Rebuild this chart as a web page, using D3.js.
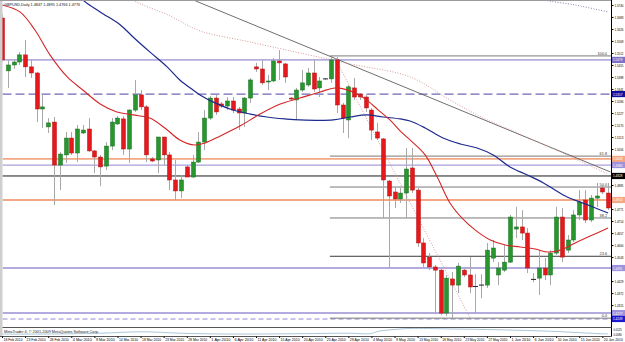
<!DOCTYPE html>
<html><head><meta charset="utf-8">
<script src="https://cdn.jsdelivr.net/npm/d3@7"></script>
<style>
html,body{margin:0;padding:0;background:#fff;}
svg{display:block;font-family:"Liberation Sans",Arial,sans-serif;}
</style></head><body>
<svg id="c" width="625" height="342"></svg>
<script>
// ---------------- DATA ----------------
const symbol = "GBPUSD,Daily";
const opens = [1.5678,1.5427,1.5455,1.5469,1.5503,1.5446,1.5417,1.5246,1.5161,1.5184,1.4980,1.5028,1.5108,1.5037,1.5132,1.5151,1.5047,1.5018,1.4975,1.5070,1.5175,1.5199,1.5056,1.5241,1.5313,1.5256,1.5009,1.5004,1.5113,1.5028,1.4909,1.4857,1.4971,1.4923,1.4994,1.5089,1.5203,1.5298,1.5270,1.5260,1.5284,1.5246,1.5227,1.5298,1.5446,1.5436,1.5374,1.5379,1.5474,1.5460,1.5298,1.5289,1.5336,1.5360,1.5417,1.5346,1.5389,1.5389,1.5479,1.5265,1.5194,1.5346,1.5317,1.5303,1.5241,1.5137,1.5104,1.4904,1.4852,1.4819,1.4847,1.4966,1.4861,1.4610,1.4543,1.4496,1.4481,1.4277,1.4439,1.4410,1.4481,1.4458,1.4405,1.4408,1.4410,1.4538,1.4458,1.4481,1.4519,1.4676,1.4686,1.4657,1.4439,1.4443,1.4491,1.4458,1.4562,1.4733,1.4576,1.4624,1.4743,1.4814,1.4719,1.4823,1.4871,1.4847];
const highs = [1.5697,1.5479,1.5479,1.5517,1.5574,1.5479,1.5422,1.5313,1.5203,1.5208,1.5042,1.5137,1.5137,1.5170,1.5170,1.5203,1.5051,1.5028,1.5089,1.5203,1.5213,1.5213,1.5246,1.5384,1.5336,1.5265,1.5018,1.5113,1.5113,1.5042,1.5004,1.4933,1.4980,1.5028,1.5137,1.5241,1.5308,1.5313,1.5279,1.5303,1.5303,1.5256,1.5303,1.5393,1.5465,1.5479,1.5408,1.5488,1.5526,1.5465,1.5303,1.5346,1.5431,1.5441,1.5479,1.5398,1.5393,1.5493,1.5493,1.5275,1.5360,1.5393,1.5322,1.5313,1.5251,1.5180,1.5108,1.4909,1.4876,1.4871,1.5061,1.5061,1.4871,1.4633,1.4562,1.4505,1.4491,1.4458,1.4472,1.4515,1.4491,1.4543,1.4462,1.4462,1.4610,1.4624,1.4519,1.4600,1.4743,1.4781,1.4766,1.4681,1.4467,1.4576,1.4538,1.4576,1.4781,1.4776,1.4648,1.4766,1.4861,1.4861,1.4838,1.4895,1.4880,1.4895];
const lows = [1.5469,1.5346,1.5436,1.5455,1.5398,1.5393,1.5184,1.5156,1.5132,1.4790,1.4861,1.4990,1.5028,1.4994,1.5127,1.5042,1.4942,1.4880,1.4956,1.5051,1.5170,1.5028,1.4990,1.5232,1.5241,1.4994,1.4994,1.4942,1.4980,1.4861,1.4814,1.4823,1.4923,1.4918,1.4990,1.5051,1.5194,1.5218,1.5251,1.5241,1.5227,1.5146,1.5161,1.5275,1.5422,1.5360,1.5336,1.5374,1.5384,1.5370,1.5289,1.5194,1.5327,1.5351,1.5327,1.5303,1.5384,1.5370,1.5227,1.5132,1.5108,1.5289,1.5289,1.5232,1.5099,1.5099,1.4728,1.4491,1.4776,1.4800,1.4728,1.4847,1.4591,1.4496,1.4481,1.4272,1.4268,1.4263,1.4253,1.4372,1.4448,1.4372,1.4277,1.4348,1.4396,1.4519,1.4410,1.4472,1.4515,1.4633,1.4624,1.4467,1.4424,1.4363,1.4434,1.4410,1.4553,1.4519,1.4562,1.4614,1.4719,1.4705,1.4709,1.4781,1.4842,1.4766];
const closes = [1.5479,1.5455,1.5469,1.5503,1.5446,1.5417,1.5246,1.5256,1.5180,1.4980,1.5032,1.5108,1.5037,1.5151,1.5146,1.5047,1.5018,1.4971,1.5070,1.5184,1.5203,1.5056,1.5241,1.5313,1.5256,1.5028,1.4999,1.5113,1.5028,1.4909,1.4857,1.4909,1.4923,1.4994,1.5089,1.5203,1.5298,1.5232,1.5260,1.5284,1.5241,1.5227,1.5298,1.5384,1.5436,1.5370,1.5379,1.5474,1.5465,1.5398,1.5294,1.5336,1.5370,1.5417,1.5341,1.5379,1.5389,1.5479,1.5265,1.5203,1.5351,1.5303,1.5303,1.5251,1.5146,1.5108,1.4909,1.4833,1.4819,1.4847,1.4961,1.4861,1.4610,1.4515,1.4496,1.4481,1.4277,1.4443,1.4410,1.4500,1.4458,1.4401,1.4403,1.4410,1.4576,1.4586,1.4491,1.4519,1.4733,1.4686,1.4657,1.4491,1.4437,1.4491,1.4458,1.4562,1.4733,1.4543,1.4624,1.4743,1.4804,1.4719,1.4823,1.4833,1.4852,1.4776];

const dateLabels = ["18 Feb 2010","23 Feb 2010","28 Feb 2010","4 Mar 2010","9 Mar 2010","14 Mar 2010","18 Mar 2010","23 Mar 2010","28 Mar 2010","1 Apr 2010","6 Apr 2010","11 Apr 2010","15 Apr 2010","20 Apr 2010","25 Apr 2010","29 Apr 2010","4 May 2010","9 May 2010","13 May 2010","18 May 2010","23 May 2010","27 May 2010","1 Jun 2010","6 Jun 2010","10 Jun 2010","15 Jun 2010","20 Jun 2010"];
const dateLabelBars = [0,4,8,12,16,20,24,28,32,36,40,44,48,52,56,60,64,68,72,76,80,84,88,92,96,100,104];

const priceTicks = [1.5740,1.5683,1.5626,1.5569,1.5512,1.5455,1.5398,1.5341,1.5284,1.5227,1.5170,1.5113,1.5056,1.4999,1.4942,1.4885,1.4828,1.4771,1.4714,1.4657,1.4600,1.4543,1.4486,1.4429,1.4372,1.4315,1.4258];
const priceRange = [1.4211, 1.5754];
const barRange = [-0.35, 105.5];

// moving averages / curves as [bar, price]
const maFast = [[0,1.5740],[3.1,1.5707],[5.7,1.5621],[8.3,1.5503],[11.3,1.5398],[14,1.5336],[17,1.5270],[19.9,1.5232],[22.7,1.5218],[25.6,1.5203],[28.2,1.5156],[30.8,1.5099],[33.4,1.5075],[35.2,1.5085],[37.8,1.5118],[41.2,1.5165],[44.7,1.5222],[48.2,1.5270],[51.6,1.5298],[55.1,1.5327],[57.7,1.5346],[60.3,1.5332],[62.9,1.5294],[65.2,1.5241],[67.2,1.5194],[69,1.5141],[71.1,1.5089],[73.3,1.5028],[75.4,1.4923],[77.6,1.4800],[79.7,1.4728],[82,1.4671],[84.6,1.4624],[87.2,1.4600],[89.8,1.4591],[92.4,1.4581],[94.6,1.4567],[96.7,1.4576],[99.3,1.4610],[101.9,1.4643],[105,1.4681]];
const maSlow = [[13,1.5800],[14,1.5764],[17,1.5707],[20.5,1.5645],[22.7,1.5588],[25.6,1.5517],[28.6,1.5446],[30.8,1.5384],[33.1,1.5336],[34.3,1.5313],[36.9,1.5275],[40,1.5241],[43,1.5222],[45.9,1.5208],[49,1.5199],[51.6,1.5194],[57.4,1.5194],[60.3,1.5208],[63.3,1.5218],[66,1.5208],[69,1.5199],[70.7,1.5189],[73.3,1.5156],[76.4,1.5108],[79.4,1.5080],[82.3,1.5061],[85.1,1.5028],[88,1.4971],[91,1.4933],[93.8,1.4895],[95.8,1.4861],[97.9,1.4828],[100.2,1.4804],[102.8,1.4776],[105,1.4752]];
const maDotted = [[21.5,1.5800],[22.7,1.5764],[29.1,1.5688],[34.3,1.5617],[43,1.5564],[51.6,1.5512],[60.3,1.5460],[70.7,1.5398],[77.6,1.5289],[83.4,1.5203],[89.8,1.5127],[96.7,1.5042],[105,1.4937]];
const maTopDotted = [[92,1.5790],[94,1.5764],[99.3,1.5740],[104.9,1.5707]];
const trendLine = [[33.1,1.5764],[105.4,1.4947]];
const steepLine = [[57.7,1.5488],[81.1,1.4253]];

// horizontal levels
const levelPrices = [1.5479,1.5317,1.5009,1.4980,1.4928,1.4814,1.4491,1.4277,1.4249];
const levelKinds  = ["purple","navyDash","orange","lilac","black","orange","lilacThick","lilacThick","lilacDash"];

// fibonacci retracement
const fibHigh = 1.5498, fibLow = 1.4253, fibStartBar = 56.8;
const fibRatios = [1, 0.618, 0.5, 0.382, 0.236, 0];
const fibLabels = ["100.0","61.8","50.0","38.2","23.6","0.0"];

// sub-window indicator [bar, value]
const atrPoints = [[0,0.0086],[6.6,0.0086],[17,0.0093],[24.4,0.0105],[30.9,0.0093],[39.5,0.0086],[51.6,0.0089],[60.3,0.0093],[63.8,0.0089],[65.2,0.0109],[68.1,0.0124],[70.7,0.0132],[77.6,0.0128],[86.3,0.0121],[95,0.0109],[103.6,0.0089],[105,0.0087]];
const atrRange = [0.0070, 0.0140];
const atrTicks = [0.0125, 0.0080];

// ---------------- DRAW ----------------
const svg = d3.select("#c");
const R = 611.5, T = 1, B = 327;
const x = d3.scaleLinear().domain(barRange).range([0, 611]);
const y = d3.scaleLinear().domain(priceRange).range([327, 2]);
const ySub = d3.scaleLinear().domain(atrRange).range([336, 327.5]);

svg.append("rect").attr("width",625).attr("height",342).attr("fill","#fff");
const defs = svg.append("defs");
defs.append("clipPath").attr("id","clip")
  .append("rect").attr("x",2.5).attr("y",T).attr("width",R-2.5).attr("height",B-T);
defs.append("clipPath").attr("id","clipSub")
  .append("rect").attr("x",2.5).attr("y",327.5).attr("width",R-2.5).attr("height",9);

// left strip & borders
svg.append("rect").attr("x",0).attr("y",0).attr("width",2.5).attr("height",337).attr("fill","#cfcfcf");
svg.append("line").attr("x1",0).attr("x2",R).attr("y1",0.5).attr("y2",0.5).attr("stroke","#9a9a9a");

const g = svg.append("g").attr("clip-path","url(#clip)");

const levelStyle = {
  purple:{c:"#7b70c8",w:1,d:null,lab:"#7b70c8"},
  navyDash:{c:"#6f68b8",w:1.2,d:"9,4",lab:"#1010a0"},
  orange:{c:"#f4a785",w:1.8,d:null,lab:"#f4a785"},
  lilac:{c:"#a89fdc",w:1.2,d:null,lab:"#9d92dc"},
  black:{c:"#1a1a1a",w:1,d:null,lab:"#000"},
  lilacThick:{c:"#b3abdd",w:2,d:null,lab:"#9d92dc"},
  lilacDash:{c:"#b8b0e2",w:1.6,d:"5,3",lab:"#1a1ad0"}
};
levelPrices.forEach((p,i)=>{
  const s = levelStyle[levelKinds[i]];
  g.append("line").attr("x1",2.5).attr("x2",R).attr("y1",y(p)).attr("y2",y(p))
    .attr("stroke",s.c).attr("stroke-width",s.w).attr("stroke-dasharray",s.d);
});

// fib levels
fibRatios.forEach((r,i)=>{
  const p = fibLow + (fibHigh-fibLow)*r;
  g.append("line").attr("x1",x(fibStartBar)).attr("x2",R).attr("y1",y(p)).attr("y2",y(p))
    .attr("stroke", r===0.236 ? "#3a3a3a" : "#7a7a7a").attr("stroke-width",1);
  svg.append("text").attr("x",607).attr("y",y(p)-1.2).attr("text-anchor","end")
    .attr("font-size",3.8).attr("fill","#333").text(fibLabels[i]);
});

// trend lines
const ln = d3.line().x(d=>x(d[0])).y(d=>y(d[1]));
const cl = d3.line().x(d=>x(d[0])).y(d=>y(d[1])).curve(d3.curveCatmullRom.alpha(0.5));
g.append("path").attr("d",ln(trendLine)).attr("fill","none").attr("stroke","#5e5e5e").attr("stroke-width",0.9);
g.append("path").attr("d",ln(steepLine)).attr("fill","none").attr("stroke","#d99a9a").attr("stroke-width",1).attr("stroke-dasharray","1,1.6");
g.append("path").attr("d",cl(maDotted)).attr("fill","none").attr("stroke","#d79a9a").attr("stroke-width",1).attr("stroke-dasharray","1,1.6");
g.append("path").attr("d",cl(maTopDotted)).attr("fill","none").attr("stroke","#8c8aa8").attr("stroke-width",1).attr("stroke-dasharray","1,1.6");

// candles
const bars = d3.range(opens.length).map(i=>({i,o:opens[i],h:highs[i],l:lows[i],c:closes[i]}));
const cg = g.append("g");
cg.selectAll("line.w").data(bars).join("line")
  .attr("x1",d=>Math.round(x(d.i))+0.5).attr("x2",d=>Math.round(x(d.i))+0.5)
  .attr("y1",d=>y(d.h)).attr("y2",d=>y(d.l)).attr("stroke","#a8a8a8").attr("stroke-width",1);
cg.selectAll("rect.b").data(bars.filter(d=>Math.abs(d.o-d.c)>=0.0003)).join("rect")
  .attr("x",d=>Math.round(x(d.i))-1.5).attr("width",4)
  .attr("y",d=>y(Math.max(d.o,d.c))).attr("height",d=>Math.max(1,y(Math.min(d.o,d.c))-y(Math.max(d.o,d.c))))
  .attr("fill",d=>d.c>d.o?"#27962c":"#e5191c")
  .attr("stroke",d=>d.c>d.o?"#167020":"#b51212").attr("stroke-width",0.5);
cg.selectAll("line.d").data(bars.filter(d=>Math.abs(d.o-d.c)<0.0003)).join("line")
  .attr("x1",d=>Math.round(x(d.i))-2).attr("x2",d=>Math.round(x(d.i))+3)
  .attr("y1",d=>y(d.c)).attr("y2",d=>y(d.c)).attr("stroke","#222").attr("stroke-width",1);

// moving averages
g.append("path").attr("d",cl(maSlow)).attr("fill","none").attr("stroke","#1d2a8e").attr("stroke-width",1.2);
g.append("path").attr("d",cl(maFast)).attr("fill","none").attr("stroke","#d42626").attr("stroke-width",1.1);

// title
svg.append("text").attr("x",4).attr("y",5.5).attr("font-size",3.8).attr("fill","#111")
  .text(symbol+"  "+[opens,highs,lows,closes].map(a=>a[a.length-1].toFixed(4)).join(" "));

// right axis (tick labels hidden where a highlighted label covers them)
const SX = 0.72;
const hlY = levelPrices.map(p=>y(p));
const ax = svg.append("g").attr("transform",`translate(${R},0)`)
  .call(d3.axisRight(y).tickValues(priceTicks).tickFormat(d3.format(".4f")).tickSize(2).tickPadding(1));
ax.select(".domain").remove();
ax.selectAll("line").attr("stroke","#000");
ax.selectAll(".tick text").attr("font-size",4.1).attr("fill","#000")
  .attr("x",3/SX).attr("transform",`scale(${SX},1)`)
  .style("display",d=>hlY.some(v=>Math.abs(v-y(d))<5)?"none":null);
svg.append("line").attr("x1",R).attr("x2",R).attr("y1",0).attr("y2",336.5).attr("stroke","#000");

// highlighted price labels
levelPrices.forEach((p,i)=>{
  const s = levelStyle[levelKinds[i]];
  svg.append("rect").attr("x",R+0.5).attr("y",y(p)-3.1).attr("width",13).attr("height",6.2).attr("fill",s.lab);
  svg.append("g").attr("transform",`translate(${R+1.5},${y(p)+1.5}) scale(0.76,1)`)
    .append("text").attr("font-size",4.1).attr("fill","#fff").text(p.toFixed(4));
});

// sub window
svg.append("line").attr("x1",2.5).attr("x2",R).attr("y1",327.5).attr("y2",327.5).attr("stroke","#555");
svg.append("line").attr("x1",0).attr("x2",R).attr("y1",336.5).attr("y2",336.5).attr("stroke","#555");
svg.append("g").attr("clip-path","url(#clipSub)").append("path")
  .attr("d",d3.line().x(d=>x(d[0])).y(d=>ySub(d[1])).curve(d3.curveCatmullRom.alpha(0.5))(atrPoints))
  .attr("fill","none").attr("stroke","#a9c7d8").attr("stroke-width",1);
svg.append("text").attr("x",4).attr("y",332.5).attr("font-size",3.8).attr("fill","#222").text("MetaTrader 4, © 2001-2009 MetaQuotes Software Corp.");
atrTicks.forEach(v=>{
  svg.append("g").attr("transform",`translate(${R+2},${ySub(v)+1.3}) scale(0.8,1)`)
    .append("text").attr("font-size",3.4).attr("fill","#000").text(v.toFixed(4));
});

// bottom date axis
const xa = svg.append("g").attr("transform","translate(0,336.5)")
  .call(d3.axisBottom(x).tickValues(dateLabelBars).tickFormat((d,i)=>dateLabels[i]).tickSize(1.5).tickPadding(0.5));
xa.select(".domain").remove();
xa.selectAll("line").attr("stroke","#000");
xa.selectAll("text").attr("text-anchor","start").attr("dx",1).attr("font-size",3.9).attr("fill","#000")
  .attr("textLength",19).attr("lengthAdjust","spacingAndGlyphs");
</script>
</body></html>
